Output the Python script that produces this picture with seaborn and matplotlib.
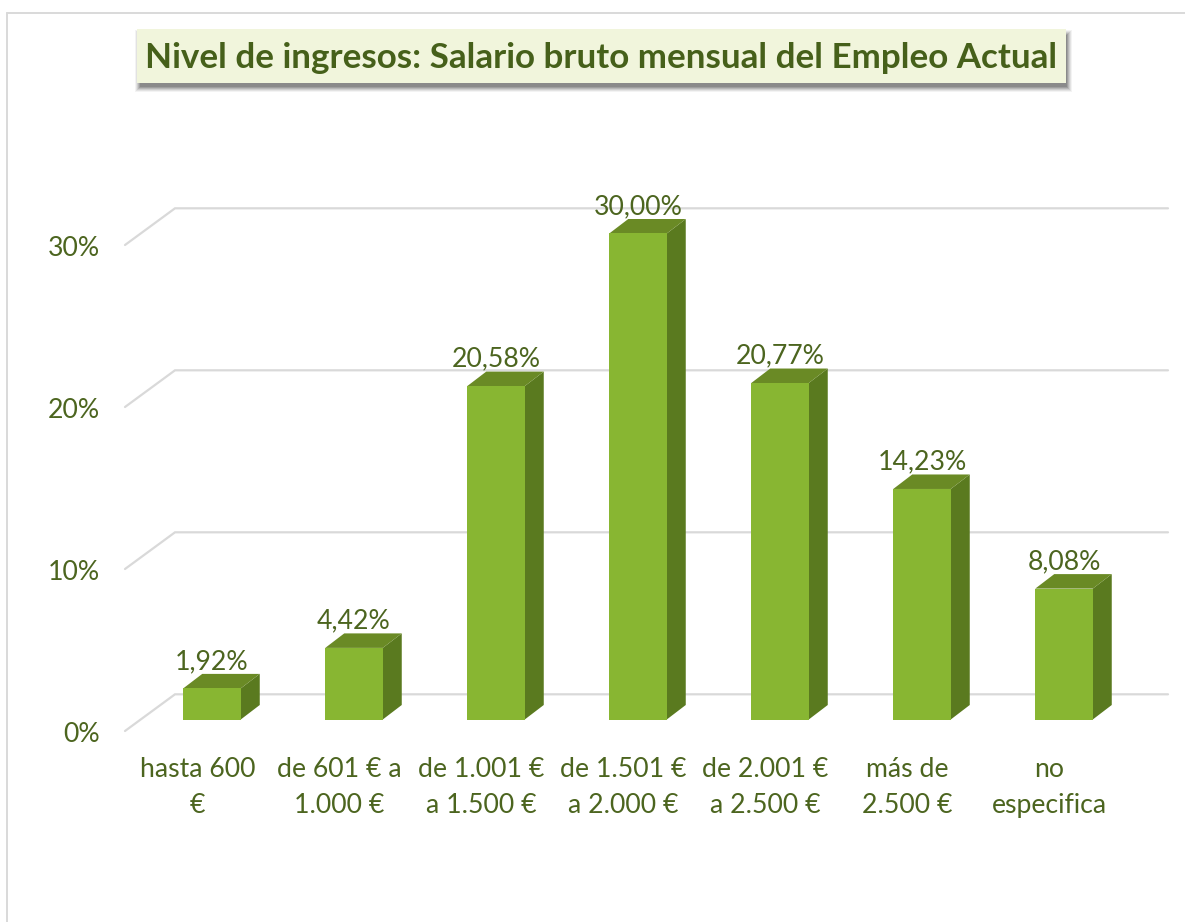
import matplotlib
matplotlib.use('Agg')
import matplotlib.pyplot as plt
import matplotlib.transforms as mtrans
from matplotlib.lines import Line2D
from matplotlib.patches import Polygon, Rectangle
import pandas as pd
import seaborn as sns

# =========================
# Data
# =========================
categories = [
    'hasta 600\n€',
    'de 601 € a\n1.000 €',
    'de 1.001 €\na 1.500 €',
    'de 1.501 €\na 2.000 €',
    'de 2.001 €\na 2.500 €',
    'más de\n2.500 €',
    'no\nespecifica',
]
values = [1.92, 4.42, 20.58, 30.00, 20.77, 14.23, 8.08]
y_ticks = [0, 10, 20, 30]
y_tick_labels = ['0%', '10%', '20%', '30%']
title = 'Nivel de ingresos: Salario bruto mensual del Empleo Actual'

# =========================
# Style
# =========================
sns.set_theme(style='white')
plt.rcParams['font.family'] = ['Lato', 'DejaVu Sans']

W, H = 1185, 922
FRONT = '#88b632'
SIDE = '#5a7a1f'
TOP = '#6a8a25'
TEXT = '#4c651f'
TITLE = '#46601a'
GRID = '#d9d9d9'

PX_X = 142.0   # pixels per category
PX_Y = 16.2    # pixels per percent point

fig = plt.figure(figsize=(W / 100, H / 100), dpi=100, facecolor='white')


def fx(px):
    return px / W


def fy(px):
    return 1 - px / H


# axes spans the wall width, its bottom edge sits on the bar bases
left, right, base, top = 126, 1168, 719.5, 150
ax = fig.add_axes([fx(left), fy(base), fx(right - left), (base - top) / H])
ax.patch.set_alpha(0)

df = pd.DataFrame({'categoria': categories, 'valor': values})
sns.barplot(data=df, x='categoria', y='valor', color=FRONT, saturation=1,
            width=0.405, linewidth=0, ax=ax, zorder=3)

ax.set_xlim((left - 212) / PX_X, (right - 212) / PX_X)
ax.set_ylim(0, (base - top) / PX_Y)
ax.set_xlabel('')
ax.set_ylabel('')
sns.despine(ax=ax, left=True, bottom=True)

# =========================
# Fake 3D: wall grid and bar faces
# =========================
dx = 19 / PX_X
dy = 14.5 / PX_Y
wall_x0 = (175 - 212) / PX_X
wall_x1 = (right - 212) / PX_X
wall_dy = (base - 694.3) / PX_Y
floor_dy = (base - 731) / PX_Y
floor_x0 = (125 - 212) / PX_X

for t in y_ticks:
    ax.plot([floor_x0, wall_x0, wall_x1],
            [t + floor_dy, t + wall_dy, t + wall_dy],
            color=GRID, lw=1.6, zorder=1, clip_on=False,
            solid_joinstyle='miter')

for bar in ax.patches[:len(values)]:
    x0 = bar.get_x()
    x1 = x0 + bar.get_width()
    h = bar.get_height()
    ax.add_patch(Polygon([(x1, 0), (x1 + dx, dy), (x1 + dx, h + dy), (x1, h)],
                         closed=True, fc=SIDE, ec='none', zorder=2, clip_on=False))
    ax.add_patch(Polygon([(x0, h), (x0 + dx, h + dy), (x1 + dx, h + dy), (x1, h)],
                         closed=True, fc=TOP, ec='none', zorder=2, clip_on=False))
    ax.annotate(f'{h:.2f}%'.replace('.', ','), (x0 + bar.get_width() / 2, h),
                xytext=(0, 27 * 0.72), textcoords='offset points',
                ha='center', va='center', fontsize=19.2, color=TEXT, zorder=5)

# =========================
# Ticks
# =========================
ax.set_yticks(y_ticks)
ax.set_yticklabels(y_tick_labels)
ax.tick_params(axis='y', length=0, pad=0, labelsize=19.2, labelcolor=TEXT)
ax.tick_params(axis='x', length=0, pad=0, labelsize=19.2, labelcolor=TEXT)

shift_y = mtrans.ScaledTranslation(-26 / 100, -15 / 100, fig.dpi_scale_trans)
for lab in ax.get_yticklabels():
    lab.set_transform(lab.get_transform() + shift_y)
    lab.set_va('center')

shift_x = mtrans.ScaledTranslation(-14.5 / 100, -37 / 100, fig.dpi_scale_trans)
for lab in ax.get_xticklabels():
    lab.set_transform(lab.get_transform() + shift_x)
    lab.set_linespacing(1.56)

# =========================
# Chart frame and title box
# =========================
fig.add_artist(Line2D([fx(6.5), fx(6.5)], [fy(13), 0], color=GRID, lw=1.4))
fig.add_artist(Line2D([fx(6.5), 1], [fy(13), fy(13)], color=GRID, lw=1.4))

box_l, box_r, box_t, box_b = 137, 1066, 29, 83
for grow, alpha in [(4, 0.06), (3, 0.09), (2, 0.12), (1, 0.16), (0, 0.2), (-1, 0.22)]:
    fig.add_artist(Rectangle(
        (fx(box_l + 2 - grow), fy(box_b + 5 + grow)),
        fx(box_r - box_l + 2 * grow),
        (box_b - box_t + 2 * grow) / H,
        transform=fig.transFigure, fc='#404040', ec='none', alpha=alpha))
fig.add_artist(Rectangle((fx(box_l), fy(box_b)), fx(box_r - box_l), (box_b - box_t) / H,
                         transform=fig.transFigure, fc='#f1f5dc', ec='none'))
fig.text(fx((box_l + box_r) / 2 - 0.5), fy(58), title, ha='center', va='center',
         fontsize=25.2, fontweight='bold', color=TITLE)

plt.savefig('out.png', dpi=100)
